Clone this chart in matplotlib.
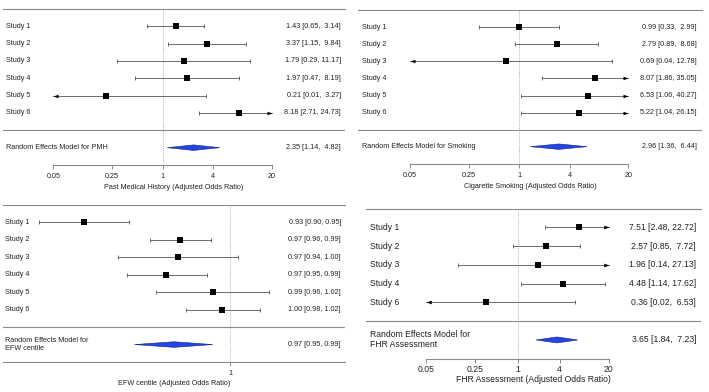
import numpy as np
import matplotlib.pyplot as plt
from matplotlib.ticker import NullLocator
from matplotlib.transforms import blended_transform_factory

plt.rcParams['font.family'] = ['Liberation Sans', 'DejaVu Sans']

# Past medical history
pmh_labels = ["Study 1", "Study 2", "Study 3", "Study 4", "Study 5", "Study 6"]
pmh_or = [1.43, 3.37, 1.79, 1.97, 0.21, 8.18]
pmh_lo = [0.65, 1.15, 0.29, 0.47, 0.01, 2.71]
pmh_hi = [3.14, 9.84, 11.17, 8.19, 3.27, 24.73]
pmh_re = [2.35, 1.14, 4.82]

# Cigarette smoking
smk_labels = ["Study 1", "Study 2", "Study 3", "Study 4", "Study 5", "Study 6"]
smk_or = [0.99, 2.79, 0.69, 8.07, 6.53, 5.22]
smk_lo = [0.33, 0.89, 0.04, 1.86, 1.06, 1.04]
smk_hi = [2.99, 8.68, 12.78, 35.05, 40.27, 26.15]
smk_re = [2.96, 1.36, 6.44]

# EFW centile (estimated to 3 decimals, shown to 2)
efw_labels = ["Study 1", "Study 2", "Study 3", "Study 4", "Study 5", "Study 6"]
efw_or = [0.926, 0.974, 0.973, 0.967, 0.991, 0.996]
efw_lo = [0.9045, 0.959, 0.943, 0.947, 0.962, 0.977]
efw_hi = [0.948, 0.990, 1.004, 0.988, 1.021, 1.016]
efw_re = [0.971, 0.951, 0.991]

# FHR assessment
fhr_labels = ["Study 1", "Study 2", "Study 3", "Study 4", "Study 6"]
fhr_or = [7.51, 2.57, 1.96, 4.48, 0.36]
fhr_lo = [2.48, 0.85, 0.14, 1.14, 0.02]
fhr_hi = [22.72, 7.72, 27.13, 17.62, 6.53]
fhr_re = [3.65, 1.84, 7.23]

or_ticks = [0.05, 0.25, 1, 4, 20]
or_tick_labels = ["0.05", "0.25", "1", "4", "20"]

W, H = 709, 392
GRAY = '#8a8a8a'
CI_COL = '#555555'
BLUE = '#2544e6'
BLUE_EDGE = '#16237a'

LEFT_ARROW = [(0, 0), (2, 0.7), (2, -0.7), (0, 0)]
RIGHT_ARROW = [(0, 0), (-2, 0.7), (-2, -0.7), (0, 0)]


def ci_text(est, lo, hi, width):
    return f"{est:.2f} [{lo:.2f}, {hi:>{width}.2f}]"


def forest(fig, box, xmap, labels, est, lo, hi, re, re_label, xlabel,
           ticks, tick_labels, clip, fs, ms, text_px, pads):
    left, right, top, bottom = box
    v0, px0, scale = xmap
    n = len(labels)
    ax = fig.add_axes([left / W, 1 - bottom / H, (right - left) / W, (bottom - top) / H])
    ax.set_xscale('log')
    ax.set_xlim(v0 * np.exp((left - px0) / scale), v0 * np.exp((right - px0) / scale))
    ax.set_ylim(n + 3, 0)

    for side in ['left', 'right']:
        ax.spines[side].set_visible(False)
    for side in ['top', 'bottom']:
        ax.spines[side].set_color(GRAY)
        ax.spines[side].set_linewidth(0.8)
    if clip is not None:
        ax.spines['bottom'].set_bounds(ticks[0], ticks[-1])
    ax.set_yticks([])
    ax.set_xticks(ticks)
    ax.set_xticklabels(tick_labels)
    ax.xaxis.set_minor_locator(NullLocator())
    ax.tick_params(axis='x', direction='out', length=3, width=0.7, color=GRAY,
                   labelsize=fs, pad=pads[0], labelcolor='#222222')
    ax.set_xlabel(xlabel, fontsize=fs, labelpad=pads[1], color='#222222')

    ax.axvline(1, ls=(0, (1, 1.5)), color='#999999', lw=0.6)
    ax.axhline(n + 1, color=GRAY, lw=0.8)

    width = max(len(f"{h:.2f}") for h in hi)
    tr = blended_transform_factory(fig.transFigure, ax.transData)
    lab_px, val_px = text_px

    for i in range(n):
        y = i + 1
        lo_c, hi_c = lo[i], hi[i]
        lo_cut = clip is not None and lo[i] < clip[0]
        hi_cut = clip is not None and hi[i] > clip[1]
        if lo_cut:
            lo_c = clip[0]
        if hi_cut:
            hi_c = clip[1]
        ax.plot([lo_c, hi_c], [y, y], color=CI_COL, lw=0.6)
        if lo_cut:
            ax.plot(lo_c, y, marker=LEFT_ARROW, color='k', ms=ms * 1.9, mew=0)
        else:
            ax.plot(lo_c, y, marker='|', color=CI_COL, ms=ms * 0.7, mew=0.6)
        if hi_cut:
            ax.plot(hi_c, y, marker=RIGHT_ARROW, color='k', ms=ms * 1.9, mew=0)
        else:
            ax.plot(hi_c, y, marker='|', color=CI_COL, ms=ms * 0.7, mew=0.6)
        ax.plot(est[i], y, marker='s', color='k', ms=ms, mew=0)

        ax.text(lab_px / W, y, labels[i], transform=tr, ha='left', va='center',
                fontsize=fs, color='#222222')
        ax.text(val_px / W, y, ci_text(est[i], lo[i], hi[i], width), transform=tr,
                ha='right', va='center', fontsize=fs, color='#222222')

    yr = n + 2
    h = 0.16
    ax.fill([re[1], re[0], re[2], re[0]], [yr, yr - h, yr, yr + h],
            facecolor=BLUE, edgecolor=BLUE_EDGE, lw=0.4)
    ax.text(lab_px / W, yr, re_label, transform=tr, ha='left', va='center',
            fontsize=fs, color='#222222', linespacing=1.15)
    ax.text(val_px / W, yr, ci_text(re[0], re[1], re[2], width), transform=tr,
            ha='right', va='center', fontsize=fs, color='#222222')
    return ax


def main():
    fig = plt.figure(figsize=(W / 100, H / 100), dpi=100)

    forest(fig, (3, 345, 9, 165), (1, 162.5, 36.45), pmh_labels, pmh_or, pmh_lo, pmh_hi,
           pmh_re, "Random Effects Model for PMH",
           "Past Medical History (Adjusted Odds Ratio)",
           or_ticks, or_tick_labels, (0.05, 20), 5.2, 3.8, (6, 341), (2.8, 2.5))

    forest(fig, (358, 702, 10.3, 163.7), (1, 519.2, 36.43), smk_labels, smk_or, smk_lo, smk_hi,
           smk_re, "Random Effects Model for Smoking",
           "Cigarette Smoking (Adjusted Odds Ratio)",
           or_ticks, or_tick_labels, (0.05, 20), 5.2, 3.8, (362, 697), (3.2, 2.5))

    forest(fig, (3, 345, 205, 362), (1, 230, 1900), efw_labels, efw_or, efw_lo, efw_hi,
           efw_re, "Random Effects Model for\nEFW centile",
           "EFW centile (Adjusted Odds Ratio)",
           [1], ["1"], None, 5.2, 3.8, (5, 341), (2.5, 2.5))

    forest(fig, (366, 701, 208.7, 358.7), (1, 517.5, 30.44), fhr_labels, fhr_or, fhr_lo, fhr_hi,
           fhr_re, "Random Effects Model for\nFHR Assessment",
           "FHR Assessment (Adjusted Odds Ratio)",
           or_ticks, or_tick_labels, (0.05, 20), 6.2, 4.0, (370, 696), (1.5, 1.0))

    fig.savefig('out.png', dpi=100)


if __name__ == "__main__":
    main()
